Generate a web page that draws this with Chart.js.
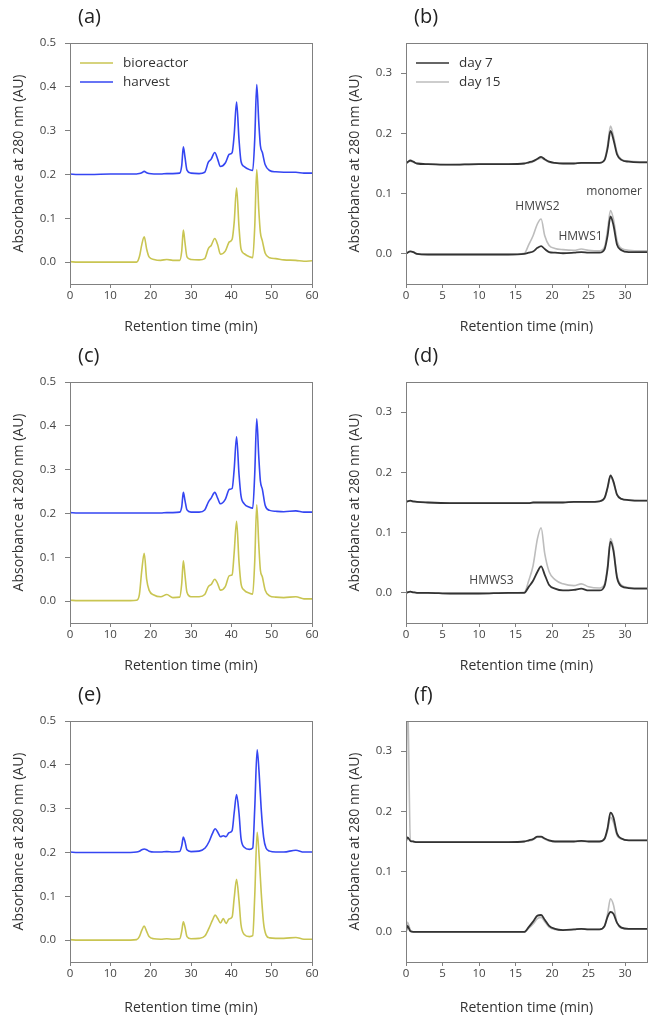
<!DOCTYPE html>
<html>
<head>
<meta charset="utf-8">
<script src="https://cdn.jsdelivr.net/npm/chart.js@4.4.0/dist/chart.umd.min.js"></script>
<style>
  body { margin: 0; background: #fff; width: 657px; height: 1024px; position: relative; overflow: hidden; }
  canvas { position: absolute; }
</style>
</head>
<body>
<canvas id="pa" width="330" height="339" style="left:0;top:0"></canvas>
<canvas id="pb" width="327" height="339" style="left:330px;top:0"></canvas>
<canvas id="pc" width="330" height="339" style="left:0;top:339px"></canvas>
<canvas id="pd" width="327" height="339" style="left:330px;top:339px"></canvas>
<canvas id="pe" width="330" height="346" style="left:0;top:678px"></canvas>
<canvas id="pf" width="327" height="346" style="left:330px;top:678px"></canvas>
<script>
// tick labels
const leftTicksX = [0, 10, 20, 30, 40, 50, 60];
const rightTicksX = [0, 5, 10, 15, 20, 25, 30];
const leftTicksY = [0, 0.1, 0.2, 0.3, 0.4, 0.5];
const rightTicksY = [0, 0.1, 0.2, 0.3];

// left column (a), (c): retention time grid (min)
const acTime = [0, 2, 5, 10, 15, 16.5, 17.2, 17.8, 18.4, 19.0, 19.6, 20.8, 22.5, 24, 25.5, 27.2, 27.7, 28.1, 28.5, 29.0, 30.0, 32, 33.4, 34.3, 35.0, 35.9, 36.6, 37.3, 38.5, 39.5, 40.2, 40.7, 41.3, 41.9, 42.4, 43.2, 44.5, 45.3, 45.8, 46.3, 46.8, 47.2, 47.7, 48.4, 49.5, 51, 53, 56, 58, 60];

const aBio = [0.001, 0.000, 0.000, 0.000, 0.000, 0.000, 0.012, 0.040, 0.058, 0.030, 0.012, 0.006, 0.004, 0.006, 0.004, 0.004, 0.025, 0.073, 0.045, 0.012, 0.006, 0.005, 0.008, 0.031, 0.038, 0.054, 0.040, 0.018, 0.025, 0.046, 0.052, 0.090, 0.169, 0.080, 0.030, 0.019, 0.012, 0.010, 0.080, 0.211, 0.120, 0.068, 0.048, 0.020, 0.010, 0.008, 0.005, 0.004, 0.002, 0.003];
const aHarv = [0.201, 0.200, 0.200, 0.201, 0.201, 0.201, 0.202, 0.204, 0.207, 0.204, 0.202, 0.201, 0.201, 0.202, 0.202, 0.203, 0.220, 0.263, 0.240, 0.210, 0.203, 0.202, 0.205, 0.228, 0.235, 0.250, 0.235, 0.218, 0.226, 0.246, 0.250, 0.290, 0.365, 0.280, 0.230, 0.218, 0.211, 0.209, 0.280, 0.405, 0.320, 0.266, 0.250, 0.222, 0.209, 0.206, 0.205, 0.205, 0.203, 0.203];

const cBio = [0.002, 0.001, 0.001, 0.001, 0.001, 0.002, 0.015, 0.070, 0.109, 0.050, 0.025, 0.014, 0.010, 0.015, 0.008, 0.009, 0.040, 0.092, 0.060, 0.020, 0.010, 0.010, 0.015, 0.033, 0.038, 0.050, 0.040, 0.025, 0.033, 0.058, 0.060, 0.110, 0.182, 0.090, 0.040, 0.025, 0.018, 0.016, 0.090, 0.220, 0.130, 0.071, 0.055, 0.025, 0.012, 0.009, 0.008, 0.010, 0.005, 0.005];
const cHarv = [0.202, 0.201, 0.201, 0.201, 0.201, 0.201, 0.201, 0.201, 0.201, 0.201, 0.201, 0.201, 0.201, 0.202, 0.202, 0.203, 0.215, 0.248, 0.230, 0.208, 0.203, 0.203, 0.208, 0.226, 0.235, 0.248, 0.235, 0.222, 0.232, 0.255, 0.257, 0.300, 0.375, 0.290, 0.240, 0.222, 0.214, 0.212, 0.290, 0.416, 0.330, 0.274, 0.255, 0.218, 0.207, 0.205, 0.204, 0.206, 0.203, 0.203];

// (e)
const eTime = [0, 2, 5, 10, 15, 16.5, 17.2, 17.8, 18.4, 19.0, 19.6, 20.8, 22.5, 24, 25.5, 27.2, 27.7, 28.1, 28.5, 29.0, 30.0, 32, 33.5, 34.5, 35.3, 36.0, 36.7, 37.3, 38.0, 38.7, 39.4, 40.2, 40.7, 41.3, 41.9, 42.4, 43.2, 44.5, 45.3, 45.8, 46.4, 46.9, 47.4, 48.0, 48.6, 49.5, 51, 53, 56, 58, 60];
const eBio = [0.001, 0.000, 0.000, 0.000, 0.000, 0.001, 0.008, 0.022, 0.032, 0.020, 0.008, 0.003, 0.002, 0.003, 0.002, 0.003, 0.020, 0.042, 0.030, 0.008, 0.003, 0.004, 0.010, 0.028, 0.045, 0.057, 0.048, 0.039, 0.049, 0.038, 0.048, 0.053, 0.095, 0.139, 0.090, 0.035, 0.013, 0.008, 0.010, 0.100, 0.246, 0.190, 0.110, 0.038, 0.012, 0.005, 0.004, 0.004, 0.006, 0.002, 0.002];
const eHarv = [0.201, 0.200, 0.200, 0.200, 0.200, 0.201, 0.203, 0.206, 0.208, 0.206, 0.203, 0.201, 0.201, 0.202, 0.201, 0.202, 0.215, 0.235, 0.225, 0.206, 0.202, 0.203, 0.210, 0.225, 0.243, 0.254, 0.245, 0.236, 0.238, 0.236, 0.245, 0.250, 0.290, 0.332, 0.290, 0.232, 0.212, 0.207, 0.210, 0.300, 0.434, 0.380, 0.300, 0.235, 0.210, 0.203, 0.201, 0.201, 0.205, 0.201, 0.201];

// right column (b), (d), (f)
const rTime = [0, 0.2, 0.6, 1.0, 1.5, 3, 6, 10, 14, 16.2, 16.8, 17.4, 18.0, 18.5, 19.0, 19.6, 20.4, 21.5, 23, 24, 25, 26.5, 27.2, 27.6, 28.0, 28.4, 28.9, 29.5, 30.5, 32, 33];

const bDay7Up = [0.150, 0.152, 0.155, 0.153, 0.150, 0.149, 0.148, 0.149, 0.149, 0.150, 0.152, 0.154, 0.158, 0.161, 0.157, 0.153, 0.151, 0.150, 0.150, 0.151, 0.151, 0.151, 0.156, 0.175, 0.204, 0.190, 0.165, 0.156, 0.153, 0.152, 0.152];
const bDay15Up = [0.150, 0.152, 0.154, 0.152, 0.150, 0.149, 0.148, 0.149, 0.149, 0.150, 0.151, 0.153, 0.157, 0.159, 0.156, 0.152, 0.151, 0.150, 0.150, 0.151, 0.151, 0.151, 0.157, 0.180, 0.212, 0.196, 0.168, 0.157, 0.154, 0.153, 0.153];
const bDay7Low = [0.000, 0.002, 0.004, 0.003, 0.000, -0.001, -0.001, -0.001, -0.001, 0.000, 0.002, 0.004, 0.010, 0.013, 0.008, 0.003, 0.002, 0.001, 0.002, 0.003, 0.002, 0.002, 0.008, 0.030, 0.062, 0.048, 0.015, 0.006, 0.003, 0.003, 0.003];
const bDay15Low = [0.000, 0.002, 0.004, 0.003, 0.000, -0.001, -0.001, -0.001, -0.001, 0.001, 0.015, 0.030, 0.050, 0.058, 0.030, 0.014, 0.009, 0.007, 0.006, 0.008, 0.006, 0.005, 0.012, 0.040, 0.072, 0.058, 0.022, 0.009, 0.006, 0.005, 0.005];

const dDay7Up = [0.151, 0.152, 0.153, 0.152, 0.151, 0.150, 0.149, 0.149, 0.149, 0.149, 0.149, 0.150, 0.150, 0.150, 0.150, 0.150, 0.150, 0.150, 0.151, 0.151, 0.151, 0.152, 0.158, 0.175, 0.195, 0.185, 0.163, 0.156, 0.154, 0.153, 0.153];
const dDay15Up = [0.151, 0.152, 0.152, 0.151, 0.151, 0.150, 0.149, 0.149, 0.149, 0.149, 0.149, 0.150, 0.150, 0.150, 0.150, 0.150, 0.150, 0.150, 0.151, 0.151, 0.151, 0.152, 0.157, 0.173, 0.193, 0.183, 0.162, 0.156, 0.154, 0.153, 0.153];
const dDay7Low = [0.000, 0.001, 0.002, 0.001, 0.000, 0.000, -0.001, -0.001, 0.000, 0.000, 0.010, 0.020, 0.035, 0.044, 0.030, 0.013, 0.007, 0.004, 0.005, 0.007, 0.004, 0.004, 0.012, 0.040, 0.085, 0.070, 0.025, 0.011, 0.008, 0.007, 0.007];
const dDay15Low = [0.000, 0.001, 0.002, 0.001, 0.000, 0.000, -0.001, -0.001, 0.000, 0.001, 0.020, 0.045, 0.090, 0.108, 0.065, 0.035, 0.022, 0.015, 0.012, 0.015, 0.010, 0.008, 0.015, 0.045, 0.090, 0.075, 0.028, 0.013, 0.009, 0.008, 0.008];

const fDay7Up = [0.150, 0.157, 0.151, 0.150, 0.149, 0.149, 0.149, 0.149, 0.149, 0.150, 0.152, 0.154, 0.158, 0.158, 0.155, 0.152, 0.150, 0.150, 0.150, 0.151, 0.150, 0.150, 0.155, 0.172, 0.198, 0.190, 0.163, 0.155, 0.152, 0.152, 0.152];
const fDay15Up = [0.150, 0.400, 0.152, 0.150, 0.149, 0.149, 0.149, 0.149, 0.149, 0.150, 0.151, 0.153, 0.157, 0.157, 0.154, 0.151, 0.150, 0.150, 0.150, 0.150, 0.150, 0.150, 0.154, 0.168, 0.190, 0.182, 0.160, 0.154, 0.152, 0.152, 0.152];
const fDay7Low = [0.000, 0.010, 0.001, 0.000, 0.000, 0.000, 0.000, 0.000, 0.000, 0.000, 0.008, 0.017, 0.027, 0.028, 0.020, 0.010, 0.005, 0.003, 0.004, 0.005, 0.004, 0.004, 0.010, 0.025, 0.033, 0.030, 0.015, 0.007, 0.005, 0.005, 0.005];
const fDay15Low = [0.000, 0.016, 0.003, 0.000, 0.000, 0.000, 0.000, 0.000, 0.000, 0.000, 0.006, 0.013, 0.022, 0.024, 0.017, 0.008, 0.004, 0.003, 0.004, 0.005, 0.004, 0.004, 0.010, 0.030, 0.055, 0.045, 0.015, 0.006, 0.005, 0.005, 0.005];

const YELLOW = '#c9c552';
const BLUE = '#3546f2';
const DARK = '#333333';
const LIGHT = '#bdbdbd';

Chart.defaults.font.family = "'Open Sans', sans-serif";

function pts(t, v) {
  return t.map((x, i) => ({ x: x, y: v[i] }));
}

function line(label, t, v, color, width, order) {
  return {
    label: label,
    data: pts(t, v),
    borderColor: color,
    borderWidth: width,
    pointRadius: 0,
    fill: false,
    cubicInterpolationMode: 'monotone',
    order: order
  };
}

// frame, panel letter, legend and peak notes
const decor = {
  id: 'decor',
  afterDraw(chart, args, opts) {
    const ctx = chart.ctx;
    const a = chart.chartArea;
    ctx.save();
    ctx.strokeStyle = '#808080';
    ctx.lineWidth = 1;
    ctx.strokeRect(Math.round(a.left) + 0.5, Math.round(a.top) + 0.5,
      Math.round(a.right - a.left), Math.round(a.bottom - a.top));

    ctx.fillStyle = '#222';
    ctx.font = "20px 'Open Sans'";
    ctx.textBaseline = 'middle';
    ctx.fillText(opts.letter, a.left + 8, 17);

    if (opts.legend) {
      ctx.font = "13.5px 'Open Sans'";
      opts.legend.forEach((item, i) => {
        const y = a.top + 20 + i * 19;
        ctx.strokeStyle = item.color;
        ctx.lineWidth = 1.6;
        ctx.beginPath();
        ctx.moveTo(a.left + 10, y);
        ctx.lineTo(a.left + 43, y);
        ctx.stroke();
        ctx.fillStyle = '#333';
        ctx.fillText(item.text, a.left + 53, y);
      });
    }

    if (opts.notes) {
      const xs = chart.scales.x, ys = chart.scales.y;
      ctx.font = "12px 'Open Sans'";
      ctx.fillStyle = '#444';
      ctx.textAlign = 'center';
      opts.notes.forEach(n => {
        ctx.fillText(n.text, xs.getPixelForValue(n.x), ys.getPixelForValue(n.y));
      });
    }
    ctx.restore();
  }
};

function makePanel(id, p) {
  const canvas = document.getElementById(id);
  const H = canvas.height;
  return new Chart(canvas, {
    type: 'line',
    data: { datasets: p.datasets },
    options: {
      responsive: false,
      animation: false,
      layout: { padding: { top: 43, right: p.padRight, bottom: 0, left: 0 } },
      scales: {
        x: {
          type: 'linear',
          min: 0,
          max: p.xMax,
          afterBuildTicks: s => { s.ticks = p.xTicks.map(v => ({ value: v })); },
          afterFit: s => { s.height = H - 284; s.paddingLeft = 0; s.paddingRight = 0; },
          grid: { drawOnChartArea: false, tickLength: 4, color: '#808080' },
          border: { color: '#808080' },
          ticks: { color: '#444', font: { size: 11.5 }, padding: 1, maxRotation: 0 },
          title: {
            display: true,
            text: 'Retention time (min)',
            color: '#333',
            font: { size: 14 },
            padding: { top: 0, bottom: p.titlePad }
          }
        },
        y: {
          min: -0.05,
          max: p.yMax,
          afterBuildTicks: s => { s.ticks = p.yTicks.map(v => ({ value: v })); },
          afterFit: s => { s.width = p.yWidth; s.paddingTop = 0; s.paddingBottom = 0; },
          grid: { drawOnChartArea: false, tickLength: 5, color: '#808080' },
          border: { color: '#808080' },
          ticks: { color: '#444', font: { size: 11.5 }, padding: 9, callback: v => v.toFixed(1) },
          title: {
            display: true,
            text: 'Absorbance at 280 nm (AU)',
            color: '#333',
            font: { size: 14 },
            padding: { top: p.yTitlePad, bottom: 0 }
          }
        }
      },
      plugins: {
        legend: { display: false },
        tooltip: { enabled: false },
        decor: { letter: p.letter, legend: p.legend, notes: p.notes }
      }
    },
    plugins: [decor]
  });
}

const leftLegend = [{ text: 'bioreactor', color: YELLOW }, { text: 'harvest', color: BLUE }];
const rightLegend = [{ text: 'day 7', color: DARK }, { text: 'day 15', color: LIGHT }];

function leftPanel(id, letter, t, bio, harv, legend, titlePad) {
  makePanel(id, {
    letter: letter, legend: legend, titlePad: titlePad,
    xMax: 60, xTicks: leftTicksX, yMax: 0.5, yTicks: leftTicksY,
    yWidth: 70, yTitlePad: 11, padRight: 18,
    datasets: [
      line('bioreactor', t, bio, YELLOW, 1.6, 0),
      line('harvest', t, harv, BLUE, 1.6, 0)
    ]
  });
}

function rightPanel(id, letter, up7, up15, low7, low15, legend, notes, titlePad) {
  makePanel(id, {
    letter: letter, legend: legend, notes: notes, titlePad: titlePad,
    xMax: 33, xTicks: rightTicksX, yMax: 0.35, yTicks: rightTicksY,
    yWidth: 76, yTitlePad: 17, padRight: 10,
    datasets: [
      line('day 7', rTime, up7, DARK, 1.8, 0),
      line('day 7', rTime, low7, DARK, 1.8, 0),
      line('day 15', rTime, up15, LIGHT, 1.6, 1),
      line('day 15', rTime, low15, LIGHT, 1.6, 1)
    ]
  });
}

leftPanel('pa', '(a)', acTime, aBio, aHarv, leftLegend, 4);
leftPanel('pc', '(c)', acTime, cBio, cHarv, null, 4);
leftPanel('pe', '(e)', eTime, eBio, eHarv, null, 8);

rightPanel('pb', '(b)', bDay7Up, bDay15Up, bDay7Low, bDay15Low, rightLegend, [
  { text: 'HMWS2', x: 18.0, y: 0.078 },
  { text: 'HMWS1', x: 23.9, y: 0.028 },
  { text: 'monomer', x: 28.5, y: 0.103 }
], 4);
rightPanel('pd', '(d)', dDay7Up, dDay15Up, dDay7Low, dDay15Low, null, [
  { text: 'HMWS3', x: 11.7, y: 0.021 }
], 4);
rightPanel('pf', '(f)', fDay7Up, fDay15Up, fDay7Low, fDay15Low, null, null, 8);
</script>
</body>
</html>
